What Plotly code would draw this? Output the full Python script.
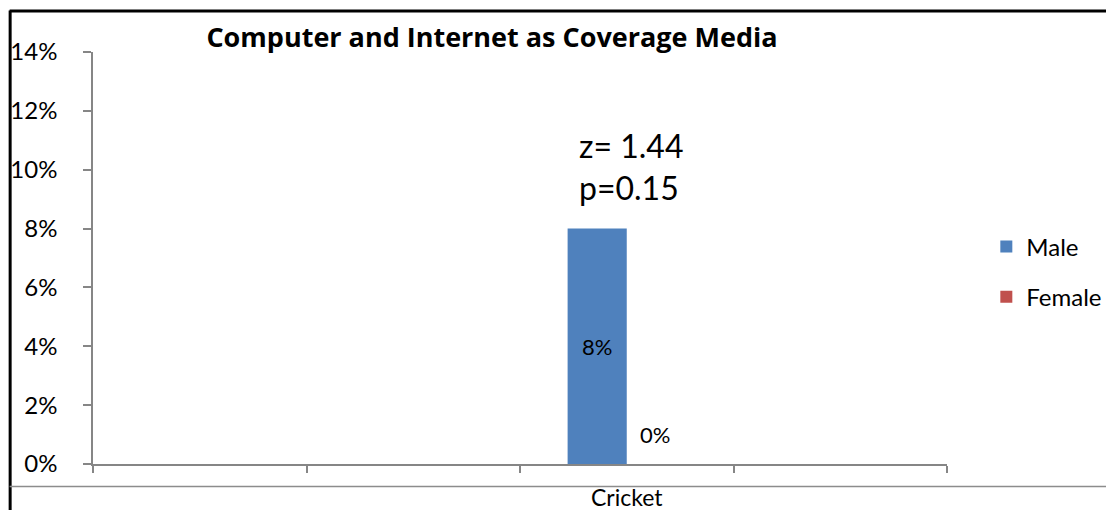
import plotly.graph_objects as go

# ---- data ----
categories = ["", "", "Cricket", ""]
series_names = ["Male", "Female"]
male = [None, None, 0.08, None]
female = [None, None, 0.00, None]
stat_text = "z= 1.44<br>p=0.15"
y_ticks = [0, 0.02, 0.04, 0.06, 0.08, 0.10, 0.12, 0.14]

colors = ["#4F81BD", "#C0504D"]
FONT = "Lato"

W, H = 1106, 510
L, R, T, B = 93.3, 159.3, 51.5, 45.5
pw, ph = W - L - R, H - T - B


def px(x):
    return (x - L) / pw


def py(y):
    return (H - B - y) / ph


pos = list(range(len(categories)))

fig = go.Figure()
fig.add_trace(go.Bar(
    x=pos, y=male, name=series_names[0], marker=dict(color=colors[0], line=dict(width=0)),
    texttemplate="%{y:.0%}", textposition="inside", insidetextanchor="middle",
    textfont=dict(family=FONT, size=22, color="black"), legendgroup="m",
))
fig.add_trace(go.Bar(
    x=pos, y=female, name=series_names[1], marker=dict(color=colors[1], line=dict(width=0)),
    legendgroup="f", cliponaxis=False,
))

# data label of the Female bar (sits a little above the zero bar)
for i, v in enumerate(female):
    if v is not None:
        fig.add_annotation(
            x=pos[i], y=v, text=f"{v:.0%}", showarrow=False, xanchor="center", yanchor="bottom",
            xshift=28, yshift=14, font=dict(family=FONT, size=22, color="black"),
        )

# stats annotation above the Male bar
fig.add_annotation(
    x=pos[2], y=male[2], text=stat_text, showarrow=False, xanchor="center", yanchor="bottom",
    align="left", yshift=20, xshift=4, font=dict(family=FONT, size=32, color="black"),
)

axis_grey = "#868686"
fig.update_layout(
    width=W, height=H,
    margin=dict(l=L, r=R, t=T, b=B, autoexpand=False),
    paper_bgcolor="white", plot_bgcolor="white",
    barmode="group", bargap=0.446, bargroupgap=0,
    font=dict(family=FONT, size=24, color="black"),
    title=dict(text="<b>Computer and Internet as Coverage Media</b>", xref="container", yref="container",
               x=492 / W, y=1 - 38 / H, xanchor="center", yanchor="middle",
               font=dict(family="Open Sans", size=27, color="black")),
    showlegend=True,
    legend=dict(x=px(986), y=py(272), xanchor="left", yanchor="middle", tracegroupgap=16,
                font=dict(family=FONT, size=24, color="black"), itemwidth=30,
                bgcolor="rgba(0,0,0,0)"),
    xaxis=dict(
        range=[-0.5, len(categories) - 0.5], tickmode="array", tickvals=pos, ticktext=categories,
        ticks="", showline=True, linecolor=axis_grey, linewidth=1.5, showgrid=False, zeroline=False,
        automargin=False,
        ticklabelstandoff=13, tickfont=dict(family=FONT, size=23, color="black"),
        minor=dict(tickmode="array", tickvals=[p - 0.5 for p in pos] + [pos[-1] + 0.5],
                   ticks="outside", ticklen=7, tickcolor=axis_grey, tickwidth=1.5, showgrid=False),
    ),
    yaxis=dict(
        range=[0, 0.14], tickmode="array", tickvals=y_ticks, tickformat=".0%",
        ticks="outside", ticklen=8, tickcolor=axis_grey, tickwidth=1.5,
        showline=True, linecolor=axis_grey, linewidth=1.5, showgrid=False, zeroline=False,
        automargin=False,
        ticklabelstandoff=21, tickfont=dict(family=FONT, size=24, color="black"),
    ),
    shapes=[
        dict(type="line", xref="paper", yref="paper", x0=px(10), x1=px(W + 5), y0=py(10.5), y1=py(10.5),
             line=dict(color="black", width=3)),
        dict(type="line", xref="paper", yref="paper", x0=px(10.5), x1=px(10.5), y0=py(10), y1=py(H + 5),
             line=dict(color="black", width=3)),
        dict(type="line", xref="paper", yref="paper", x0=px(10), x1=px(W + 5), y0=py(487), y1=py(487),
             line=dict(color="#8c8c8c", width=1.5)),
    ],
)

fig.write_html("out.html")
